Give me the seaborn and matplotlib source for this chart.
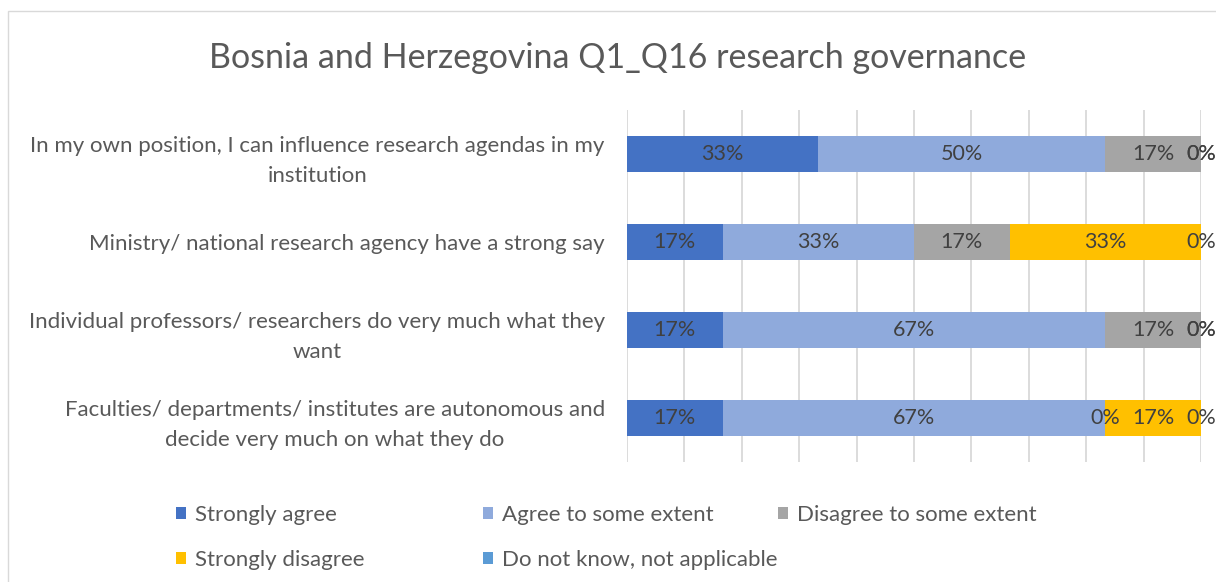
import numpy as np
import pandas as pd
import seaborn as sns
import matplotlib.pyplot as plt
from matplotlib.patches import Rectangle

title = "Bosnia and Herzegovina Q1_Q16 research governance"

statements = [
    "In my own position, I can influence research agendas in my\ninstitution",
    "Ministry/ national research agency have a strong say",
    "Individual professors/ researchers do very much what they\nwant",
    "Faculties/ departments/ institutes are autonomous and\ndecide very much on what they do",
]
answers = ["Strongly agree", "Agree to some extent", "Disagree to some extent",
           "Strongly disagree", "Do not know, not applicable"]
colors = ["#4472C4", "#8FAADC", "#A5A5A5", "#FFC000", "#5B9BD5"]

# shares in percent, one list per answer, rows in statement order
strongly_agree = [33.33, 16.67, 16.67, 16.67]
agree_some = [50.0, 33.33, 66.67, 66.67]
disagree_some = [16.67, 16.67, 16.67, 0.0]
strongly_disagree = [0.0, 33.33, 0.0, 16.67]
dont_know = [0.0, 0.0, 0.0, 0.0]

df = pd.DataFrame({
    "statement": statements,
    answers[0]: strongly_agree,
    answers[1]: agree_some,
    answers[2]: disagree_some,
    answers[3]: strongly_disagree,
    answers[4]: dont_know,
})
shares = df[answers].to_numpy()
ends = shares.cumsum(axis=1)
mids = ends - shares / 2

sns.set_theme(style="white")
plt.rcParams['font.family'] = ['Lato', 'DejaVu Sans']
text_col = "#595959"

fig = plt.figure(figsize=(12.16, 5.82), dpi=100)
ax = fig.add_axes([627 / 1216, 1 - 462 / 582, (1201 - 627) / 1216, (462 - 110) / 582])

# stacked bars: draw cumulative totals from the last answer back to the first
for i in reversed(range(len(answers))):
    sns.barplot(x=ends[:, i], y=df["statement"], color=colors[i], orient="y",
                width=0.41, saturation=1, linewidth=0, label=answers[i], ax=ax)

for j in range(len(statements)):
    for i in range(len(answers)):
        ax.text(mids[j, i], j, f"{shares[j, i]:.0f}%", ha="center", va="center",
                fontsize=15.5, color="#404040")

ax.set_xlim(0, 100)
ax.set_xticks(np.arange(0, 101, 10))
ax.xaxis.grid(True, color="#D9D9D9", lw=1.3)
ax.set_axisbelow(True)
ax.tick_params(axis="x", labelbottom=False, length=0)
ax.tick_params(axis="y", length=0, pad=16, labelsize=16, labelcolor=text_col)
for lab in ax.get_yticklabels():
    lab.set_multialignment("center")
    lab.set_linespacing(1.65)
ax.set_xlabel("")
ax.set_ylabel("")
sns.despine(ax=ax, left=True, bottom=True)

fig.text(618 / 1216, 1 - 58 / 582, title, ha="center", va="center",
         fontsize=24.5, color=text_col)

# legend in three columns like the original
handles, labels = ax.get_legend_handles_labels()
lookup = dict(zip(labels, handles))
if ax.get_legend() is not None:
    ax.get_legend().remove()
columns = [([answers[0], answers[3]], 176), ([answers[1], answers[4]], 483), ([answers[2]], 778)]
for names, x0 in columns:
    fig.legend([lookup[n] for n in names], names, loc="upper left",
               bbox_to_anchor=(x0 / 1216, 1 - 505 / 582), frameon=False,
               borderpad=0, borderaxespad=0, fontsize=16, labelcolor=text_col,
               handlelength=0.45, handleheight=0.45, handletextpad=0.4,
               labelspacing=1.14)

fig.patches.append(Rectangle((8 / 1216, -0.1), 1.2, 1.1 - 11 / 582, fill=False,
                             edgecolor="#D9D9D9", lw=1, transform=fig.transFigure))

fig.savefig("out.png", dpi=100)
